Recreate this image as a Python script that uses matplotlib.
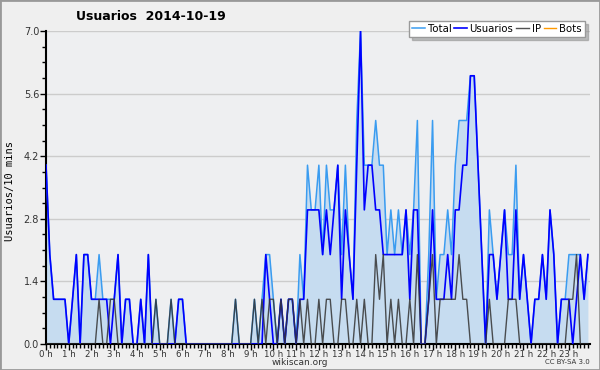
import numpy as np
import matplotlib.pyplot as plt
from matplotlib.patches import Rectangle

# Usuarios por intervalo de 10 min, 2014-10-19 (144 intervalos)
usuarios = [4, 2, 1, 1, 1, 1, 0, 1, 2, 0,
            2, 2, 1, 1, 1, 1, 1, 0, 1, 2,
            0, 1, 1, 0, 0, 1, 0, 2, 0, 0,
            0, 0, 0, 0, 0, 1, 1, 0, 0, 0,
            0, 0, 0, 0, 0, 0, 0, 0, 0, 0,
            0, 0, 0, 0, 0, 0, 0, 0, 2, 1,
            0, 0, 1, 0, 1, 1, 0, 1, 1, 3,
            3, 3, 3, 2, 3, 2, 3, 4, 1, 3,
            2, 1, 4, 7, 3, 4, 4, 3, 3, 2,
            2, 2, 2, 2, 2, 3, 1, 3, 3, 0,
            0, 1, 3, 1, 1, 1, 2, 1, 3, 3,
            4, 4, 6, 6, 4, 2, 0, 2, 2, 1,
            2, 3, 1, 1, 3, 1, 2, 1, 0, 1,
            1, 2, 1, 3, 2, 0, 1, 1, 1, 0,
            1, 2, 1, 2]

ip = [0, 0, 0, 0, 0, 0, 0, 0, 0, 0,
      0, 0, 0, 0, 1, 0, 0, 1, 1, 0,
      0, 0, 0, 0, 0, 0, 0, 0, 0, 1,
      0, 0, 0, 1, 0, 0, 0, 0, 0, 0,
      0, 0, 0, 0, 0, 0, 0, 0, 0, 0,
      1, 0, 0, 0, 0, 1, 0, 1, 0, 1,
      1, 0, 1, 0, 1, 1, 0, 1, 0, 1,
      0, 0, 1, 0, 1, 1, 0, 0, 1, 1,
      0, 0, 1, 0, 1, 0, 0, 2, 1, 2,
      0, 1, 0, 1, 0, 0, 1, 0, 2, 0,
      0, 1, 2, 0, 1, 1, 1, 1, 1, 2,
      1, 1, 0, 0, 0, 0, 0, 1, 0, 0,
      0, 0, 1, 1, 1, 0, 0, 0, 0, 0,
      0, 0, 0, 0, 0, 0, 0, 0, 1, 1,
      2, 0, 0, 0]

total = [4, 2, 1, 1, 1, 1, 0, 1, 2, 0,
         2, 2, 1, 1, 2, 1, 1, 1, 1, 2,
         0, 1, 1, 0, 0, 1, 0, 2, 0, 1,
         0, 0, 0, 1, 0, 1, 1, 0, 0, 0,
         0, 0, 0, 0, 0, 0, 0, 0, 0, 0,
         1, 0, 0, 0, 0, 1, 0, 1, 2, 2,
         1, 0, 1, 0, 1, 1, 0, 2, 1, 4,
         3, 3, 4, 2, 4, 3, 3, 4, 2, 4,
         2, 1, 5, 7, 4, 4, 4, 5, 4, 4,
         2, 3, 2, 3, 2, 3, 2, 3, 5, 0,
         0, 2, 5, 1, 2, 2, 3, 2, 4, 5,
         5, 5, 6, 6, 4, 2, 0, 3, 2, 1,
         2, 3, 2, 2, 4, 1, 2, 1, 0, 1,
         1, 2, 1, 3, 2, 0, 1, 1, 2, 2,
         2, 2, 1, 2]

bots = [0] * 144

hour_labels = [f'{h} h' for h in range(24)]
y_ticks = [0.0, 1.4, 2.8, 4.2, 5.6, 7.0]

fig = plt.figure(figsize=(6, 3.7), dpi=100, facecolor='#efefef')
ax = fig.add_axes([0.0767, 0.0703, 0.9063, 0.8457])
ax.set_facecolor('#eeeff1')

x = np.arange(len(usuarios))
ax.fill_between(x, total, color='#c6dcf0', lw=0, zorder=1)
l_bots, = ax.plot(x, bots, color='#ff9900', lw=1.0, zorder=2.2, label='Bots')
l_tot, = ax.plot(x, total, color='#3a9cf0', lw=1.1, zorder=2.6, label='Total')
l_usr, = ax.plot(x, usuarios, color='#0000ff', lw=1.2, zorder=3, label='Usuarios')
l_ip, = ax.plot(x, ip, color='#333333', lw=1.0, alpha=0.85, zorder=3.5, label='IP')

ax.set_xlim(0, 143.5)
ax.set_ylim(0, 7)
ax.set_yticks(y_ticks)
ax.set_yticklabels([f'{v:.1f}' for v in y_ticks])
ax.set_yticks(np.arange(0, 7.01, 0.35), minor=True)
ax.set_xticks(np.arange(0, 144, 6))
ax.set_xticklabels(hour_labels)
ax.set_xticks(x, minor=True)
ax.grid(axis='y', color='#cccccc', lw=1)
ax.set_axisbelow(True)

ax.tick_params(which='major', direction='out', length=4, width=1, labelsize=7,
               labelcolor='#333333', pad=1)
ax.tick_params(axis='x', which='major', labelsize=6.2, pad=0)
ax.tick_params(which='minor', direction='out', length=3, width=1)
for s in ['top', 'right']:
    ax.spines[s].set_visible(False)
for s in ['left', 'bottom']:
    ax.spines[s].set_linewidth(1.5)

leg = ax.legend(handles=[l_tot, l_usr, l_ip, l_bots], loc='upper right',
                bbox_to_anchor=(0.983, 0.957), bbox_transform=fig.transFigure,
                ncol=4, fontsize=7.3, fancybox=False, shadow={'color': '#888888'},
                handlelength=1.2, handletextpad=0.3, columnspacing=0.3,
                borderpad=0.3, framealpha=1)
leg.get_frame().set_edgecolor('#999999')

fig.text(0.252, 0.955, 'Usuarios  2014-10-19', ha='center', va='center',
         fontsize=9, fontweight='bold')
fig.text(0.017, 0.484, 'Usuarios/10 mins', rotation=90, ha='center', va='center',
         family='DejaVu Sans Mono', fontsize=7.5)
fig.text(0.5, 0.021, 'wikiscan.org', ha='center', va='center', fontsize=6.5,
         color='#333333')
fig.text(0.983, 0.021, 'CC BY-SA 3.0', ha='right', va='center', fontsize=5,
         color='#333333')

fig.patches.append(Rectangle((0, 0), 1, 1, transform=fig.transFigure, fill=False,
                             edgecolor='#999999', lw=2))

fig.savefig('out.png', dpi=100, facecolor=fig.get_facecolor())
